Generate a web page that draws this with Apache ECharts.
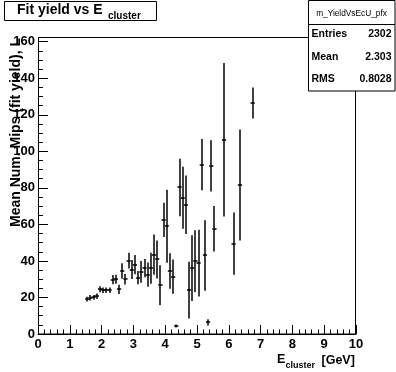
<!DOCTYPE html>
<html>
<head>
<meta charset="utf-8">
<script src="https://cdn.jsdelivr.net/npm/echarts@6/dist/echarts.min.js"></script>
<style>
  html, body { margin: 0; padding: 0; background: #fff; }
  #chartmain { width: 396px; height: 372px; }
</style>
</head>
<body>
<div id="chartmain"></div>
<script>
// bin centres (GeV), mean of each bin and its error
var binCenters = [1.55, 1.65, 1.75, 1.85, 1.95, 2.05, 2.15, 2.25, 2.35, 2.45,
                  2.55, 2.65, 2.75, 2.85, 2.95, 3.05, 3.15, 3.25, 3.35, 3.45,
                  3.55, 3.65, 3.75, 3.85, 3.95, 4.05, 4.15, 4.25, 4.35, 4.45,
                  4.55, 4.65, 4.75, 4.85, 4.95, 5.05, 5.15, 5.25, 5.35, 5.45,
                  5.55, 5.85, 6.15, 6.35, 6.75];
var meanMips = [19.1, 19.8, 20.0, 20.7, 24.5, 24.0, 24.0, 24.0, 29.8, 30.0,
                24.4, 34.5, 30.0, 40.2, 35.3, 38.0, 30.9, 34.0, 36.0, 32.5,
                36.0, 43.4, 40.8, 26.7, 62.5, 59.0, 34.5, 31.4, 4.4, 80.2,
                74.6, 70.8, 24.0, 36.0, 39.8, 38.8, 92.7, 43.0, 6.4, 92.0,
                57.6, 106.3, 49.5, 81.6, 126.4];
var meanErr = [1.3, 1.5, 1.3, 1.5, 1.6, 1.5, 1.5, 1.5, 2.5, 2.5,
               2.5, 4.2, 2.9, 4.3, 5.2, 5.3, 3.6, 6.0, 5.0, 6.6,
               8.5, 11.0, 10.4, 11.0, 9.4, 20.0, 9.7, 9.4, 0.8, 15.7,
               17.0, 16.0, 15.5, 18.0, 17.0, 18.3, 14.0, 19.3, 1.7, 14.0,
               12.5, 42.0, 17.0, 30.4, 8.5];
var binHalfWidth = 0.05;
var xTicks = [0, 10, 1];
var yTicks = [0, 160, 20];

var points = [];
for (var i = 0; i < binCenters.length; i++) {
    points.push([binCenters[i], meanMips[i], meanErr[i]]);
}

var font = '"Liberation Sans", Arial, Helvetica, sans-serif';

function txt(text, x, y, size, weight, align) {
    return {
        type: 'text', x: x, y: y, z: 20,
        style: {
            text: text, fill: '#000',
            font: weight + ' ' + size + 'px ' + font,
            align: align, textAlign: align,
            verticalAlign: 'middle', textVerticalAlign: 'middle'
        }
    };
}

var myChart = echarts.init(document.getElementById('chartmain'), null, {renderer: 'canvas'});

var option = {
    backgroundColor: '#fff',
    animation: false,
    grid: {left: 38, right: 40, top: 41.7, bottom: 38, show: false},
    xAxis: {
        type: 'value',
        min: xTicks[0], max: xTicks[1], interval: xTicks[2],
        axisLine: {show: true, onZero: false, lineStyle: {color: '#000', width: 1}},
        axisTick: {show: true, inside: true, length: 9, lineStyle: {color: '#000'}},
        minorTick: {show: true, splitNumber: 5, length: 4.5, lineStyle: {color: '#000'}},
        splitLine: {show: false},
        axisLabel: {color: '#000', fontFamily: font, fontWeight: 'bold', fontSize: 13, margin: 4}
    },
    yAxis: {
        type: 'value',
        min: yTicks[0], max: yTicks[1], interval: yTicks[2],
        axisLine: {show: true, onZero: false, lineStyle: {color: '#000', width: 1}},
        axisTick: {show: true, inside: true, length: 10, lineStyle: {color: '#000'}},
        minorTick: {show: true, splitNumber: 4, length: 5, lineStyle: {color: '#000'}},
        splitLine: {show: false},
        axisLabel: {color: '#000', fontFamily: font, fontWeight: 'bold', fontSize: 13, margin: 3}
    },
    series: [{
        type: 'custom',
        data: points,
        clip: false,
        renderItem: function (params, api) {
            var x = api.value(0), y = api.value(1), e = api.value(2);
            var c = api.coord([x, y]);
            var lo = api.coord([x, y - e]);
            var hi = api.coord([x, y + e]);
            var l = api.coord([x - binHalfWidth, y]);
            var r = api.coord([x + binHalfWidth, y]);
            var px = Math.round(c[0]);
            var py = Math.round(c[1]);
            var st = {stroke: '#000', lineWidth: 1.5};
            return {
                type: 'group',
                children: [
                    {type: 'line', shape: {x1: px, y1: lo[1], x2: px, y2: hi[1]}, style: st},
                    {type: 'line', shape: {x1: l[0] - 0.5, y1: py, x2: r[0] + 0.5, y2: py}, style: st}
                ]
            };
        }
    }],
    graphic: [
        // frame
        {type: 'rect', z: 5, shape: {x: 38.5, y: 37.5, width: 317, height: 296.5},
         style: {fill: null, stroke: '#000', lineWidth: 1}},
        // title box
        {type: 'rect', z: 15, shape: {x: 4.5, y: 1.5, width: 152, height: 19},
         style: {fill: '#fff', stroke: '#000', lineWidth: 1}},
        txt('Fit yield vs E', 17, 10.5, 14, 'bold', 'left'),
        txt('cluster', 108, 16.5, 10, 'bold', 'left'),
        // stats box
        {type: 'rect', z: 15, shape: {x: 308.5, y: 0.5, width: 86.5, height: 90.5},
         style: {fill: '#fff', stroke: '#000', lineWidth: 1}},
        {type: 'line', z: 16, shape: {x1: 308.5, y1: 24.5, x2: 395, y2: 24.5},
         style: {stroke: '#000', lineWidth: 1}},
        txt('m_YieldVsEcU_pfx', 351.5, 14, 8.3, 'normal', 'center'),
        txt('Entries', 311.5, 34, 10.5, 'bold', 'left'),
        txt('2302', 391.5, 34, 10.5, 'bold', 'right'),
        txt('Mean', 311.5, 57, 10.5, 'bold', 'left'),
        txt('2.303', 391.5, 57, 10.5, 'bold', 'right'),
        txt('RMS', 311.5, 79.5, 10.5, 'bold', 'left'),
        txt('0.8028', 391.5, 79.5, 10.5, 'bold', 'right'),
        // x axis title
        txt('E', 277, 360, 12.5, 'bold', 'left'),
        txt('cluster', 285.5, 366, 9, 'bold', 'left'),
        txt('[GeV]', 321.5, 360.5, 12.5, 'bold', 'left'),
        // y axis title
        {type: 'text', x: 16.5, y: 38, rotation: Math.PI / 2, z: 20,
         style: {text: 'Mean Num. Mips (fit yield), L', fill: '#000',
                 font: 'bold 14px ' + font,
                 align: 'right', textAlign: 'right',
                 verticalAlign: 'middle', textVerticalAlign: 'middle'}}
    ]
};

myChart.setOption(option);
</script>
</body>
</html>
